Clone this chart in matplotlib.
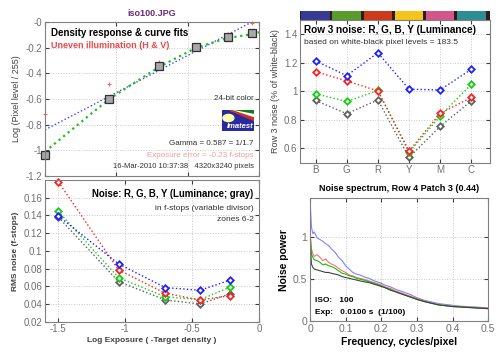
import numpy as np
import matplotlib
matplotlib.use('Agg')
import matplotlib.pyplot as plt
from matplotlib.ticker import FuncFormatter

plt.rcParams['font.family'] = ['Liberation Sans', 'DejaVu Sans']

# density response (top left)
dens_x = [-1.5, -1.05, -0.70, -0.44, -0.22, -0.05]
dens_y = [-1.035, -0.60, -0.34, -0.197, -0.114, -0.083]
uneven_x = [-1.5, -1.05, -0.70, -0.22, -0.05]
uneven_y = [-0.715, -0.48, -0.31, -0.09, -0.01]
fit_blue_x = [-1.5, -0.05]
fit_blue_y = [-0.84, 0.0]
fit_green_x = [-1.5, -1.05, -0.70, -0.44, -0.22, -0.05, 0.0]
fit_green_y = [-1.01, -0.60, -0.35, -0.20, -0.125, -0.095, -0.08]

# row 3 noise (top right)
patches = ['B', 'G', 'R', 'Y', 'M', 'C']
patch_colors = ['#373a93', '#5a9b2e', '#cd3a1a', '#f5c51c', '#d2568a', '#2f8c95']
row3_blue = [1.213, 1.11, 1.27, 1.015, 1.01, 1.155]
row3_red = [1.138, 1.073, 1.003, 0.582, 0.845, 0.957]
row3_green = [0.983, 0.929, 1.006, 0.572, 0.827, 1.05]
row3_gray = [0.936, 0.843, 0.94, 0.537, 0.754, 0.933]

# noise in f-stops (bottom left)
zone_x = [-1.5, -1.05, -0.70, -0.44, -0.22]
fs_red = [0.1778, 0.0785, 0.0521, 0.0445, 0.0494]
fs_green = [0.1445, 0.0698, 0.048, 0.0449, 0.0589]
fs_blue = [0.1393, 0.0853, 0.0585, 0.0555, 0.0668]
fs_gray = [0.138, 0.0653, 0.0445, 0.040, 0.0513]

# noise spectrum (bottom right)
freq = [0, 0.004, 0.008, 0.012, 0.02, 0.028, 0.036, 0.044, 0.052, 0.06, 0.07, 0.08,
        0.09, 0.1, 0.11, 0.12, 0.13, 0.14, 0.15, 0.165, 0.18, 0.195, 0.21, 0.225,
        0.24, 0.26, 0.28, 0.3, 0.32, 0.34, 0.36, 0.38, 0.4, 0.42, 0.44, 0.46, 0.48, 0.5]
sp_blue = [1.46, 1.12, 1.04, 1.06, 0.99, 0.97, 0.95, 0.92, 0.90, 0.86, 0.82, 0.76,
           0.72, 0.66, 0.62, 0.58, 0.56, 0.55, 0.53, 0.51, 0.48, 0.46, 0.43, 0.41,
           0.38, 0.35, 0.32, 0.28, 0.25, 0.23, 0.21, 0.20, 0.19, 0.18, 0.175, 0.17, 0.165, 0.16]
sp_red = [1.08, 0.86, 0.80, 0.77, 0.79, 0.76, 0.72, 0.74, 0.70, 0.68, 0.66, 0.63,
          0.60, 0.58, 0.55, 0.54, 0.52, 0.51, 0.50, 0.48, 0.46, 0.44, 0.41, 0.39,
          0.36, 0.33, 0.30, 0.27, 0.24, 0.22, 0.20, 0.19, 0.18, 0.175, 0.17, 0.165, 0.16, 0.155]
sp_green = [1.05, 0.80, 0.76, 0.73, 0.72, 0.70, 0.67, 0.68, 0.66, 0.65, 0.63, 0.60,
            0.57, 0.56, 0.54, 0.53, 0.51, 0.50, 0.49, 0.47, 0.45, 0.43, 0.40, 0.38,
            0.35, 0.32, 0.29, 0.26, 0.235, 0.215, 0.195, 0.185, 0.175, 0.17, 0.165, 0.16, 0.155, 0.15]
sp_gray = [0.98, 0.68, 0.64, 0.62, 0.61, 0.60, 0.59, 0.58, 0.58, 0.57, 0.56, 0.55,
           0.53, 0.52, 0.51, 0.50, 0.49, 0.48, 0.47, 0.46, 0.44, 0.42, 0.40, 0.37,
           0.35, 0.32, 0.29, 0.26, 0.235, 0.215, 0.195, 0.185, 0.175, 0.17, 0.165, 0.16, 0.155, 0.15]

W, H = 500, 353
fig = plt.figure(figsize=(W / 100, H / 100), dpi=100)
fig.patch.set_facecolor('white')

def box(l, r, t, b):
    return [l / W, 1 - b / H, (r - l) / W, (b - t) / H]

tick_col = '#707070'
g_fmt = FuncFormatter(lambda v, p: ('%g' % round(v, 4)))

def style(ax, fs=7):
    ax.tick_params(direction='in', length=3, top=True, right=True, labelsize=fs,
                   colors='#404040', labelcolor=tick_col, pad=2)
    for s in ax.spines.values():
        s.set_color('#808080')
        s.set_linewidth(0.8)
    ax.grid(True, linestyle=':', color='#c8c8c8', linewidth=0.7)
    ax.set_axisbelow(True)

# ---- top left
ax1 = fig.add_axes(box(45, 259, 22, 176))
style(ax1)
ax1.set_xlim(-1.5, 0)
ax1.set_ylim(-1.2, 0)
ax1.set_xticks([-1.5, -1, -0.5, 0])
ax1.set_xticklabels([])
ax1.set_yticks(np.arange(-1.2, 0.01, 0.2))
ax1.yaxis.set_major_formatter(g_fmt)
ax1.plot(fit_blue_x, fit_blue_y, ':', color='#4040ff', lw=1.0)
ax1.plot(fit_green_x, fit_green_y, ':', color='#20c020', lw=1.6)
ax1.plot(uneven_x, uneven_y, '+', color='#ff6060', ms=3, mew=0.8, clip_on=False)
ax1.plot(dens_x, dens_y, 's', mfc='#a8a8a8', mec='#303030', ms=6, mew=0.9, clip_on=False)
ax1.set_ylabel('Log (Pixel level / 255)', fontsize=6.5, color='#404040', labelpad=3)
ax1.set_title('iso100.JPG', fontsize=6.5, fontweight='bold', color='#6a2a7a', pad=4)
ax1.text(0.03, 0.93, 'Density response & curve fits', transform=ax1.transAxes,
         fontsize=7, fontweight='bold', color='black', va='center')
ax1.text(0.03, 0.845, 'Uneven illumination (H & V)', transform=ax1.transAxes,
         fontsize=6.5, fontweight='bold', color='#f04848', va='center')
ax1.text(0.975, 0.50, '24-bit color', transform=ax1.transAxes, fontsize=5.8,
         ha='right', va='center', color='#303030')
ax1.text(0.975, 0.21, 'Gamma = 0.587 = 1/1.7', transform=ax1.transAxes, fontsize=5.8,
         ha='right', va='center', color='#303030')
ax1.text(0.975, 0.135, 'Exposure error = -0.23 f-stops', transform=ax1.transAxes, fontsize=5.8,
         ha='right', va='center', color='#f0a0a0')
ax1.text(0.975, 0.06, '16-Mar-2010 10:37:38   4320x3240 pixels', transform=ax1.transAxes,
         fontsize=5.5, ha='right', va='center', color='#303030')

# imatest logo
axl = fig.add_axes(box(222, 254, 110, 131))
axl.set_xlim(0, 1)
axl.set_ylim(0, 1)
axl.axis('off')
axl.add_patch(plt.Rectangle((0, 0), 1, 1, color='#2a2aa0'))
axl.fill([0.25, 1, 1], [1, 1, 0.8], color='#1a7a1a')
axl.fill([0.25, 1, 1], [1, 0.78, 0.62], color='white')
axl.fill([0.25, 1, 1], [1, 0.62, 0.5], color='#d03020')
axl.add_patch(plt.Circle((0.2, 0.62), 0.17, color='#ffffb0'))
axl.text(0.58, 0.2, 'Imatest', fontsize=5.5, fontweight='bold', fontstyle='italic',
         color='white', ha='center', va='center')

# ---- top right
axc = fig.add_axes(box(300, 490, 11, 20))
axc.set_xlim(0.5, 6.6)
axc.set_ylim(0, 1)
axc.set_facecolor('#2b1d16')
axc.bar(range(1, 7), [1] * 6, width=0.92, color=patch_colors, align='center')
axc.set_xticks([])
axc.set_yticks([])
for s in axc.spines.values():
    s.set_visible(False)

ax2 = fig.add_axes(box(300, 490, 20, 162.7))
style(ax2)
ax2.set_xlim(0.5, 6.6)
ax2.set_ylim(0.5, 1.5)
ax2.set_xticks(range(1, 7))
ax2.set_xticklabels(patches)
ax2.set_yticks([0.6, 0.8, 1.0, 1.2, 1.4])
ax2.yaxis.set_major_formatter(g_fmt)
xs = range(1, 7)
for vals, c in [(row3_gray, '#606060'), (row3_green, '#10d010'), (row3_red, '#ff2020'), (row3_blue, '#2020ff')]:
    ax2.plot(xs, vals, ':', color=c, lw=1.0, marker='D', ms=3.3, mfc='white', mec=c, mew=1.3)
ax2.set_ylabel('Row 3 noise (% of white-black)', fontsize=6.5, color='#404040', labelpad=3)
ax2.text(0.02, 0.93, 'Row 3 noise: R, G, B, Y (Luminance)', transform=ax2.transAxes,
         fontsize=7.2, fontweight='bold', va='center')
ax2.text(0.02, 0.845, 'based on white-black pixel levels = 183.5', transform=ax2.transAxes,
         fontsize=6, va='center', color='#303030')

# ---- bottom left
ax3 = fig.add_axes(box(45, 259, 180, 321.7))
style(ax3)
ax3.set_xlim(-1.6, 0)
ax3.set_ylim(0.02, 0.18)
ax3.set_xticks([-1.5, -1, -0.5, 0])
ax3.set_yticks(np.arange(0.02, 0.17, 0.02))
ax3.xaxis.set_major_formatter(g_fmt)
ax3.yaxis.set_major_formatter(g_fmt)
for vals, c in [(fs_gray, '#606060'), (fs_green, '#10d010'), (fs_red, '#ff2020'), (fs_blue, '#2020ff')]:
    ax3.plot(zone_x, vals, ':', color=c, lw=1.0, marker='D', ms=3.3, mfc='white', mec=c, mew=1.3,
             clip_on=False)
ax3.set_xlabel('Log Exposure ( -Target density )', fontsize=6, fontweight='bold',
               color='#404040', labelpad=2)
ax3.set_ylabel('RMS noise (f-stops)', fontsize=6, fontweight='bold', color='#404040', labelpad=3)
ax3.text(0.975, 0.9, 'Noise: R, G, B, Y (Luminance; gray)', transform=ax3.transAxes,
         fontsize=6.9, fontweight='bold', ha='right', va='center')
ax3.text(0.975, 0.80, 'in f-stops (variable divisor)', transform=ax3.transAxes,
         fontsize=6, ha='right', va='center', color='#303030')
ax3.text(0.975, 0.72, 'zones 6-2', transform=ax3.transAxes,
         fontsize=6, ha='right', va='center', color='#303030')

# ---- bottom right
ax4 = fig.add_axes(box(310, 488.3, 198.3, 321.3))
style(ax4, fs=7.5)
ax4.set_xlim(0, 0.5)
ax4.set_ylim(0, 1.46)
ax4.set_xticks(np.arange(0, 0.51, 0.1))
ax4.set_yticks([0, 0.5, 1])
ax4.xaxis.set_major_formatter(g_fmt)
ax4.yaxis.set_major_formatter(g_fmt)
ax4.plot(freq, sp_blue, color='#8080ff', lw=0.8)
ax4.plot(freq, sp_red, color='#ff7070', lw=0.8)
ax4.plot(freq, sp_green, color='#10c010', lw=0.8)
ax4.plot(freq, sp_gray, color='#404040', lw=0.8)
ax4.set_title('Noise spectrum, Row 4 Patch 3 (0.44)', fontsize=6.5, fontweight='bold', pad=5)
ax4.set_xlabel('Frequency, cycles/pixel', fontsize=7.5, fontweight='bold', labelpad=2)
ax4.set_ylabel('Noise power', fontsize=7.5, fontweight='bold', labelpad=3)
ax4.text(0.03, 0.17, 'ISO:   100', transform=ax4.transAxes, fontsize=6, fontweight='bold', va='center')
ax4.text(0.03, 0.07, 'Exp:   0.0100 s  (1/100)', transform=ax4.transAxes, fontsize=6,
         fontweight='bold', va='center')

fig.savefig('out.png', dpi=100)
